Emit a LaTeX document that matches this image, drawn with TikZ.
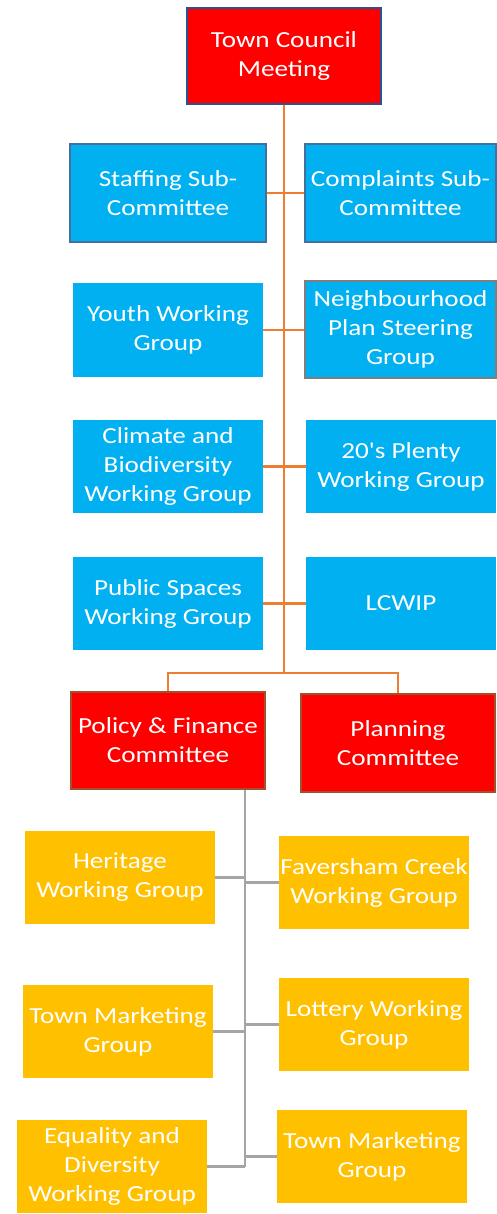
\documentclass[tikz,border=0pt]{standalone}
\usepackage{fontspec}
\setmainfont{Carlito}[FakeStretch=1.18, Ligatures=TeXOff]
\definecolor{cblue}{HTML}{00B0F0}
\definecolor{cred}{HTML}{FF0000}
\definecolor{cgold}{HTML}{FFC000}
\definecolor{corange}{HTML}{ED7D31}
\definecolor{cgray}{HTML}{A5A5A5}
\definecolor{bnavy}{HTML}{2F528F}
\definecolor{bsteel}{HTML}{41719C}
\definecolor{bgrey}{HTML}{7F7F7F}
\definecolor{bbrown}{HTML}{A0522D}
\begin{document}
\begin{tikzpicture}[x=1pt,y=-1pt,
  box/.style={rectangle, inner sep=0pt, align=center, text=white,
    font=\fontsize{23}{29}\selectfont, minimum width=190pt, minimum height=93pt},
  bluebox/.style={box, fill=cblue},
  redbox/.style={box, fill=cred, draw=bbrown, line width=2pt, minimum width=194pt, minimum height=97pt},
  goldbox/.style={box, fill=cgold},
  orangeline/.style={draw=corange, line width=2.8pt},
  grayline/.style={draw=cgray, line width=2.8pt}]
\useasboundingbox (0,0) rectangle (496,1214);

% top
\node[box, fill=cred, draw=bnavy, line width=1.6pt, minimum width=194pt, minimum height=96pt] (tcm) at (284,56) {Town Council\\Meeting};

% blue boxes
\node[bluebox, draw=bsteel, line width=2pt, minimum width=196pt, minimum height=98pt] (staff) at (168,193) {Staffing Sub-\\Committee};
\node[bluebox, draw=bsteel, line width=2pt, minimum width=191pt, minimum height=98pt] (compl) at (400.5,193) {Complaints Sub-\\Committee};
\node[bluebox, minimum height=94pt] (youth) at (168,330) {Youth Working\\Group};
\node[bluebox, draw=bgrey, line width=2pt, minimum width=191pt, minimum height=97pt] (neigh) at (400.5,329.5) {Neighbourhood\\Plan Steering\\Group};
\node[bluebox] (climate) at (168,466.5) {Climate and\\Biodiversity\\Working Group};
\node[bluebox] (plenty) at (401,466.5) {20's Plenty\\Working Group};
\node[bluebox] (public) at (168,603.5) {Public Spaces\\Working Group};
\node[bluebox] (lcwip) at (401,603.5) {LCWIP};

% red committees
\node[redbox] (policy) at (168,740.5) {Policy \& Finance\\Committee};
\node[redbox, minimum height=98pt] (planning) at (398,743) {Planning\\Committee};

% gold boxes
\node[goldbox] (heritage) at (120,877.5) {Heritage\\Working Group};
\node[goldbox] (faversham) at (374,882.5) {Faversham Creek\\Working Group};
\node[goldbox] (tmleft) at (118,1031.5) {Town Marketing\\Group};
\node[goldbox] (lottery) at (374,1024.5) {Lottery Working\\Group};
\node[goldbox] (equality) at (112,1166.5) {Equality and\\Diversity\\Working Group};
\node[goldbox] (tmright) at (372,1156.5) {Town Marketing\\Group};

% orange connectors
\coordinate (jn) at (284,673);
\draw[orangeline] (tcm.south) -- (jn);
\draw[orangeline] (policy.north) |- (jn) -| (planning.north);
\draw[orangeline] (staff.east) -- (compl.west |- staff.east);
\draw[orangeline] (youth.east) -- (neigh.west |- youth.east);
\draw[orangeline] (climate.east) -- (plenty.west |- climate.east);
\draw[orangeline] (public.east) -- (lcwip.west |- public.east);

% gray connectors
\coordinate (gx) at (245,0);
\draw[grayline] (policy.south -| gx) -- (gx |- equality.east);
\draw[grayline] (heritage.east) -- (heritage.east -| gx);
\draw[grayline] (faversham.west) -- (faversham.west -| gx);
\draw[grayline] (tmleft.east) -- (tmleft.east -| gx);
\draw[grayline] (lottery.west) -- (lottery.west -| gx);
\draw[grayline] (equality.east) -- (equality.east -| gx);
\draw[grayline] (tmright.west) -- (tmright.west -| gx);
\end{tikzpicture}
\end{document}
